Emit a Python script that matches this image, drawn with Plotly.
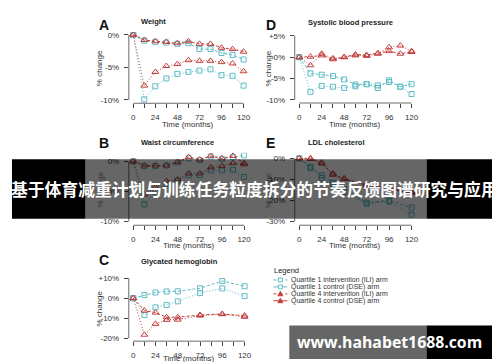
import plotly.graph_objects as go

W, H = 500, 362

# ---------------- data ----------------
months = [0, 12, 24, 36, 48, 60, 72, 84, 96, 108, 120]
lab_months = [0, 12, 24, 36, 48, 72, 96, 120]
x_tick_vals = [0, 12, 24, 36, 48, 60, 72, 84, 96, 108, 120]
x_tick_text = ["0", "", "24", "", "48", "", "72", "", "96", "", "120"]

series_names = ["Quartile 1 intervention (ILI) arm", "Quartile 1 control (DSE) arm",
                "Quartile 4 intervention (ILI) arm", "Quartile 4 control (DSE) arm"]

weight_q1_ili = [0, -9.9, -7.9, -6.7, -6.0, -5.7, -5.5, -5.3, -6.2, -6.3, -7.8]
weight_q1_dse = [0, -0.9, -1.1, -1.2, -1.4, -1.3, -2.2, -2.2, -2.8, -3.1, -3.8]
weight_q4_ili = [0, -7.8, -5.7, -4.8, -4.5, -3.9, -4.0, -4.0, -4.2, -4.4, -5.6]
weight_q4_dse = [0, -0.8, -1.0, -1.1, -1.3, -1.0, -1.4, -1.4, -2.0, -2.2, -2.6]

sbp_q1_ili = [0, -8.1, -6.7, -6.9, -7.2, -6.8, -6.3, -6.6, -5.8, -6.9, -8.6]
sbp_q1_dse = [0, -3.8, -4.1, -4.4, -5.2, -6.4, -6.3, -7.2, -5.4, -6.9, -6.3]
sbp_q4_ili = [0, -1.9, 0.8, -0.3, 0.0, 0.4, 0.3, 0.8, 2.3, 2.7, 1.4]
sbp_q4_dse = [0, 0.1, 0.4, -0.5, 0.0, 0.6, 0.5, 0.9, 1.4, 0.8, 1.2]

waist_q1_ili = [0, -7.1, -5.0, -3.8, -3.2, -2.3, -2.3, -1.5, -1.5, -1.4, -2.6]
waist_q1_dse = [0, -0.8, -0.8, -0.7, -0.2, 0.5, 0.2, 0.8, 0.4, 0.7, 1.0]
waist_q4_ili = [0, -5.5, -4.3, -3.3, -3.0, -2.0, -2.0, -1.0, -0.8, -0.3, -0.5]
waist_q4_dse = [0, -0.7, -0.7, -0.7, -0.1, 0.7, 0.3, 0.9, 0.5, 0.9, -0.3]

ldl_q1_ili = [0, -4.7, -9.3, -12.4, -16.0, -21.5, -20.5, -26.7]
ldl_q1_dse = [0, -4.0, -8.0, -11.5, -14.5, -21.0, -20.0, -23.3]
ldl_q4_ili = [0, -0.3, -2.5, -7.2, -9.5, -12.3, -14.0, -16.0]
ldl_q4_dse = [0, 0.0, -2.0, -7.8, -9.8, -12.7, -14.5, -16.5]

hba1c_q1_ili = [0, -8.4, -4.6, -3.4, -1.6, 2.5, 4.8, 1.0]
hba1c_q1_dse = [0, 1.5, 2.8, 3.3, 3.4, 4.9, 8.5, 5.9]
hba1c_q4_ili = [0, -18.2, -12.8, -10.8, -10.7, -8.7, -8.0, -9.3]
hba1c_q4_dse = [0, -6.2, -7.2, -9.5, -9.5, -8.4, -7.9, -8.7]

weight_y_ticks = [0, -5, -10]
weight_y_text = ["0%", "-5%", "-10%"]
sbp_y_ticks = [5, 0, -5, -10]
sbp_y_text = ["+5%", "0%", "-5%", "-10%"]
waist_y_ticks = [0, -5, -10]
waist_y_text = ["0%", "-5%", "-10%"]
ldl_y_ticks = [0, -10, -20, -30]
ldl_y_text = ["0%", "-10%", "-20%", "-30%"]
hba1c_y_ticks = [10, 0, -10, -20]
hba1c_y_text = ["+10%", "0%", "-10%", "-20%"]

banner_text = "基于体育减重计划与训练任务粒度拆分的节奏反馈图谱研究与应用"
watermark_text = "www.hahabet1688.com"

# ---------------- styles ----------------
CYAN = "#5fbcc6"
RED = "#c2403f"
AXC = "#444444"
TXT = "#333333"
FONT = "Liberation Sans"
styles = [
    dict(color=CYAN, dash="1px,2px", symbol="square-open", size=5),
    dict(color=CYAN, dash="3px,2px", symbol="square-open", size=5),
    dict(color=RED, dash="1px,2px", symbol="triangle-up-open", size=6),
    dict(color=RED, dash="3px,2px", symbol="triangle-up-open", size=6),
]


def xdom(p0, p120, r):
    s = (p120 - p0) / 120.0
    return [(p0 + r[0] * s) / W, (p0 + r[1] * s) / W]


def ydom(pa, va, pb, vb, r):
    s = (pb - pa) / (vb - va)
    top = pa + (r[1] - va) * s
    bot = pa + (r[0] - va) * s
    return [1 - bot / H, 1 - top / H]


panels = [
    dict(letter="A", title="Weight", x=months,
         data=[weight_q1_ili, weight_q1_dse, weight_q4_ili, weight_q4_dse],
         yt=weight_y_ticks, ytt=weight_y_text,
         xp=(126, 237), yp=(25, 0, 91, -10), yr=[-10.5, 0.4],
         lx=90, ly=15, tx=132, ty=12, ax_x=92, xt_y=116),
    dict(letter="D", title="Systolic blood pressure", x=months,
         data=[sbp_q1_ili, sbp_q1_dse, sbp_q4_ili, sbp_q4_dse],
         yt=sbp_y_ticks, ytt=sbp_y_text,
         xp=(293, 406), yp=(26, 5, 91, -10), yr=[-10.7, 5.6],
         lx=258, ly=15, tx=300, ty=13, ax_x=262, xt_y=116),
    dict(letter="B", title="Waist circumference", x=months,
         data=[waist_q1_ili, waist_q1_dse, waist_q4_ili, waist_q4_dse],
         yt=waist_y_ticks, ytt=waist_y_text,
         xp=(126, 237.5), yp=(153, 0, 214, -10), yr=[-10.6, 1.4],
         lx=90, ly=134, tx=132, ty=134, ax_x=93, xt_y=238),
    dict(letter="E", title="LDL cholesterol", x=lab_months,
         data=[ldl_q1_ili, ldl_q1_dse, ldl_q4_ili, ldl_q4_dse],
         yt=ldl_y_ticks, ytt=ldl_y_text,
         xp=(293, 406), yp=(150, 0, 214, -30), yr=[-31.7, 1.6],
         lx=258, ly=134, tx=300, ty=134, ax_x=262, xt_y=238),
    dict(letter="C", title="Glycated hemoglobin", x=lab_months,
         data=[hba1c_q1_ili, hba1c_q1_dse, hba1c_q4_ili, hba1c_q4_dse],
         yt=hba1c_y_ticks, ytt=hba1c_y_text,
         xp=(126, 238), yp=(271, 10, 332, -20), yr=[-21.4, 11.4],
         lx=90, ly=253, tx=132, ty=254, ax_x=92, xt_y=352.5),
]

fig = go.Figure()
shapes = []
annotations = []
layout = {}
XR = [-4.8, 124.8]

for i, p in enumerate(panels):
    n = i + 1
    xa = "x" if n == 1 else f"x{n}"
    ya = "y" if n == 1 else f"y{n}"
    xd = xdom(p["xp"][0], p["xp"][1], XR)
    yd = ydom(*p["yp"], p["yr"])
    layout[f"xaxis{'' if n == 1 else n}"] = dict(
        domain=xd, range=XR, anchor=ya, showgrid=False, zeroline=False, showline=False,
        tickvals=x_tick_vals, ticktext=x_tick_text, ticks="outside", ticklen=4,
        tickcolor=AXC, tickwidth=0.8, tickfont=dict(family=FONT, size=8, color=TXT),
        ticklabelstandoff=2)
    layout[f"yaxis{'' if n == 1 else n}"] = dict(
        domain=yd, range=p["yr"], anchor=xa, showgrid=False, zeroline=False, showline=False,
        tickvals=p["yt"], ticktext=p["ytt"], ticks="outside", ticklen=4,
        tickcolor=AXC, tickwidth=0.8, tickfont=dict(family=FONT, size=8, color=TXT),
        ticklabelstandoff=3)
    # R-style axis lines spanning the tick range
    shapes.append(dict(type="line", xref=xa, yref=f"{ya} domain", x0=x_tick_vals[0],
                       x1=x_tick_vals[-1], y0=0, y1=0, line=dict(color=AXC, width=0.8)))
    shapes.append(dict(type="line", xref=f"{xa} domain", yref=ya, x0=0, x1=0,
                       y0=min(p["yt"]), y1=max(p["yt"]), line=dict(color=AXC, width=0.8)))
    for k, ys in enumerate(p["data"]):
        st = styles[k]
        fig.add_trace(go.Scatter(
            x=p["x"], y=ys, xaxis=xa, yaxis=ya, mode="lines+markers", showlegend=False,
            name=series_names[k],
            line=dict(color=st["color"], width=1, dash=st["dash"]),
            marker=dict(symbol=st["symbol"], size=st["size"], color=st["color"],
                        line=dict(width=1, color=st["color"]))))
    # labels
    annotations.append(dict(text=f"<b>{p['letter']}</b>", x=p["lx"] / W, y=1 - p["ly"] / H,
                            xref="paper", yref="paper", xanchor="left", yanchor="middle",
                            showarrow=False, font=dict(family=FONT, size=14, color="#111")))
    annotations.append(dict(text=f"<b>{p['title']}</b>", x=p["tx"] / W, y=1 - p["ty"] / H,
                            xref="paper", yref="paper", xanchor="left", yanchor="middle",
                            showarrow=False, font=dict(family=FONT, size=7.5, color="#222")))
    annotations.append(dict(text="% change", x=p["ax_x"] / W, y=(yd[0] + yd[1]) / 2,
                            xref="paper", yref="paper", textangle=-90, xanchor="center",
                            yanchor="middle", showarrow=False,
                            font=dict(family=FONT, size=8, color=TXT)))
    annotations.append(dict(text="Time (months)", x=60, xref=xa, y=1 - p["xt_y"] / H,
                            yref="paper", xanchor="center", yanchor="middle", showarrow=False,
                            font=dict(family=FONT, size=8, color=TXT)))

# ---------------- manual legend ----------------
annotations.append(dict(text="Legend", x=266 / W, y=1 - 263 / H, xref="paper", yref="paper",
                        xanchor="left", yanchor="middle", showarrow=False,
                        font=dict(family=FONT, size=7.5, color="#222")))
leg_y = [273, 280, 287, 294]
for k, name in enumerate(series_names):
    st = styles[k]
    yy = 1 - leg_y[k] / H
    shapes.append(dict(type="line", xref="paper", yref="paper", x0=267 / W, x1=281 / W,
                       y0=yy, y1=yy, line=dict(color=st["color"], width=1,
                                               dash="dot" if k % 2 == 0 else "solid")))
    if k < 2:
        shapes.append(dict(type="rect", xref="paper", yref="paper", x0=272 / W, x1=276 / W,
                           y0=1 - (leg_y[k] + 2) / H, y1=1 - (leg_y[k] - 2) / H,
                           fillcolor="white", line=dict(color=st["color"], width=1)))
    else:
        cx, cy = 274, leg_y[k]
        path = (f"M {cx/W},{1-(cy-2.5)/H} L {(cx+2.5)/W},{1-(cy+2)/H} "
                f"L {(cx-2.5)/W},{1-(cy+2)/H} Z")
        shapes.append(dict(type="path", xref="paper", yref="paper", path=path,
                           fillcolor=st["color"], line=dict(color=st["color"], width=1)))
    annotations.append(dict(text=name, x=283 / W, y=yy, xref="paper", yref="paper",
                            xanchor="left", yanchor="middle", showarrow=False,
                            font=dict(family=FONT, size=7, color=TXT)))

# ---------------- overlays ----------------
def prect(x0, x1, y0, y1, color, op):
    return dict(type="rect", xref="paper", yref="paper", x0=x0 / W, x1=x1 / W,
                y0=1 - y1 / H, y1=1 - y0 / H, fillcolor=color, opacity=op,
                line=dict(width=0), layer="above")

shapes.append(prect(4, 78, 151, 211, "black", 1))
shapes.append(prect(421, 496, 151, 211, "black", 1))
shapes.append(prect(78, 421, 151, 211, "black", 0.6))
annotations.append(dict(text=f"<b>{banner_text}</b>", x=247.5 / W, y=1 - 181 / H,
                        xref="paper", yref="paper", xanchor="center", yanchor="middle",
                        showarrow=False, borderpad=0,
                        font=dict(family="Noto Sans CJK SC", size=16.8, color="white")))

shapes.append(prect(283, 421, 319, 353, "black", 0.6))
shapes.append(prect(421, 491, 319, 353, "black", 1))
annotations.append(dict(text=f"<b>{watermark_text}</b>", x=383.5 / W, y=1 - 336 / H,
                        xref="paper", yref="paper", xanchor="center", yanchor="middle",
                        showarrow=False,
                        font=dict(family="Open Sans", size=15.8, color="white")))

fig.update_layout(
    width=W, height=H, margin=dict(l=0, r=0, t=0, b=0),
    paper_bgcolor="white", plot_bgcolor="white",
    shapes=shapes, annotations=annotations, showlegend=False, **layout)

fig.write_html("out.html")
